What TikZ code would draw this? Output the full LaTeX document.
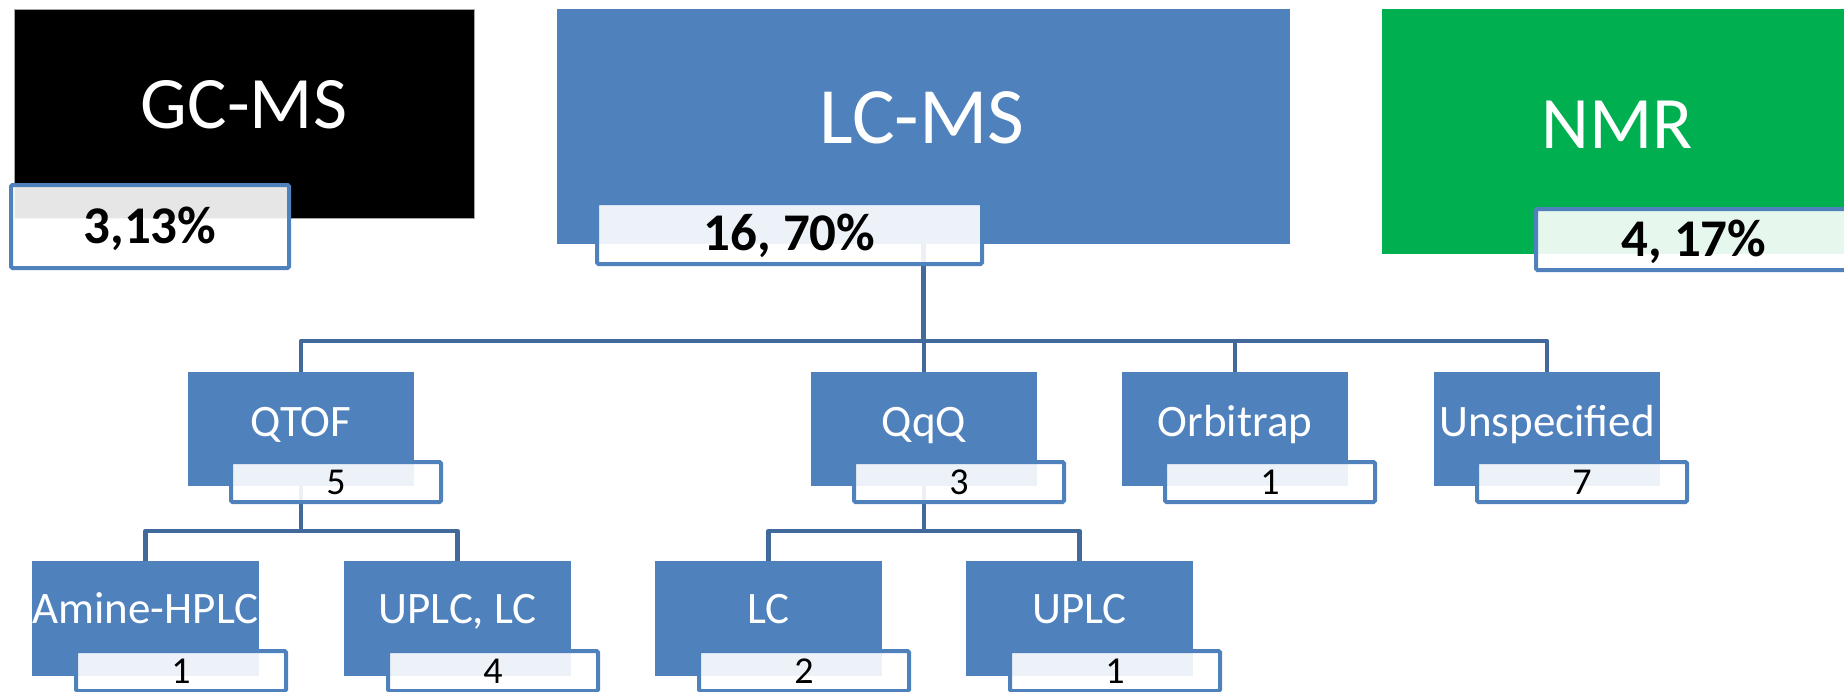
\documentclass[tikz,border=0pt]{standalone}
\usepackage{fontspec}
\setmainfont{Carlito}
\definecolor{boxblue}{HTML}{4F81BD}
\definecolor{connblue}{HTML}{41699C}
\definecolor{nmrgreen}{HTML}{00B050}
\begin{document}
\begin{tikzpicture}[x=1pt,y=-1pt,
  box/.style={rectangle, anchor=north west, inner sep=0pt, outer sep=0pt, fill=boxblue},
  ttl/.style={anchor=base, text=white, inner sep=0pt},
  bigttl/.style={ttl, font=\fontsize{74pt}{80pt}\selectfont},
  subttl/.style={ttl, font=\fontsize{45pt}{50pt}\selectfont},
  lbl/.style={rectangle, anchor=north west, inner sep=0pt, fill=white, fill opacity=0.9,
    text opacity=1, draw=boxblue, line width=4pt, rounded corners=1.5pt, text depth=0pt},
  toplbl/.style={lbl, font=\fontsize{53pt}{58pt}\selectfont\bfseries, text height=33.5pt},
  sublbl/.style={lbl, font=\fontsize{38pt}{42pt}\selectfont, text height=24pt,
    minimum width=210pt, minimum height=40pt},
  rowone/.style={box, minimum width=226pt, minimum height=114pt},
  rowtwo/.style={box, minimum width=227pt, minimum height=115pt},
  conn/.style={draw=connblue, line width=4.5pt, line join=round},
]
\useasboundingbox (0,0) rectangle (1844,691);
\clip (0,0) rectangle (1844,691);

% top level boxes
\node[box, fill=black, draw=gray!70, line width=0.8pt, minimum width=460pt, minimum height=209pt] (gcms) at (14,9) {};
\node[bigttl] (gcmsT) at (244,128) {GC-MS};
\node[box, minimum width=733pt, minimum height=235pt] (lcms) at (557,9) {};
\node[ttl, font=\fontsize{80pt}{86pt}\selectfont] (lcmsT) at (922,143) {LC-MS};
\node[box, fill=nmrgreen, minimum width=470pt, minimum height=245pt] (nmr) at (1382,9) {};
\node[bigttl] (nmrT) at (1617,148) {NMR};

% first row
\node[rowone] (qtof) at (188,372) {};
\node[subttl] (qtofT) at (301,436) {QTOF};
\node[rowone] (qqq) at (811,372) {};
\node[subttl] (qqqT) at (924,436) {QqQ};
\node[rowone] (orbi) at (1122,372) {};
\node[subttl] (orbiT) at (1235,436) {Orbitrap};
\node[rowone] (unsp) at (1434,372) {};
\node[subttl] (unspT) at (1547,436) {Unspecified};

% second row
\node[rowtwo] (amine) at (32,561) {};
\node[subttl] (amineT) at (145.5,623) {Amine-HPLC};
\node[rowtwo] (uplclc) at (344,561) {};
\node[subttl] (uplclcT) at (457.5,623) {UPLC, LC};
\node[rowtwo] (lc) at (655,561) {};
\node[subttl] (lcT) at (768.5,623) {LC};
\node[rowtwo] (uplc) at (966,561) {};
\node[subttl] (uplcT) at (1079.5,623) {UPLC};

% connectors
\coordinate (busA) at (0,341);
\coordinate (busB) at (0,531);
\draw[conn] (lcms.south) -- (lcms.south |- busA);
\draw[conn] (qtof.north) |- (lcms.south |- busA) -| (unsp.north);
\draw[conn] (qqq.north) -- (qqq.north |- busA);
\draw[conn] (orbi.north) -- (orbi.north |- busA);
\draw[conn] (qtof.south) -- (qtof.south |- busB);
\draw[conn] (amine.north) |- (qtof.south |- busB) -| (uplclc.north);
\draw[conn] (qqq.south) -- (qqq.south |- busB);
\draw[conn] (lc.north) |- (qqq.south |- busB) -| (uplc.north);

% value labels
\node[toplbl, minimum width=278pt, minimum height=83pt] (gcmsL) at (9,183) {3,13\%};
\node[toplbl, minimum width=385pt, minimum height=61pt] (lcmsL) at (595,201) {16, 70\%};
\node[toplbl, minimum width=316pt, minimum height=61pt] (nmrL) at (1534,207) {4, 17\%};

\node[sublbl] (qtofL) at (229,460) {5};
\node[sublbl] (qqqL) at (852,460) {3};
\node[sublbl] (orbiL) at (1163,460) {1};
\node[sublbl] (unspL) at (1475,460) {7};

\node[sublbl] (amineL) at (74,649) {1};
\node[sublbl] (uplclcL) at (386,649) {4};
\node[sublbl] (lcL) at (697,649) {2};
\node[sublbl] (uplcL) at (1008,649) {1};
\end{tikzpicture}
\end{document}
